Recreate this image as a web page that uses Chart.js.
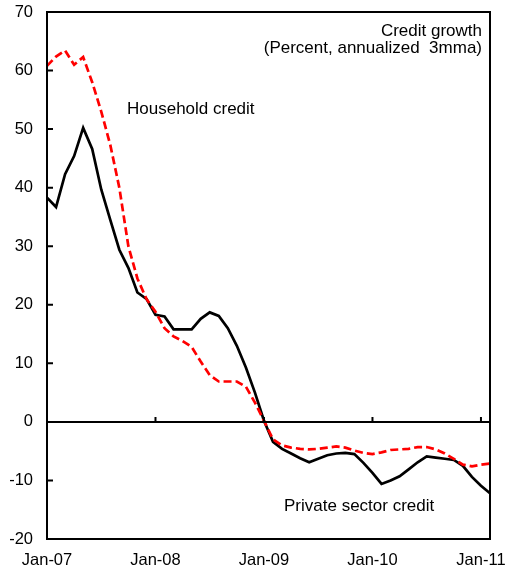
<!DOCTYPE html>
<html>
<head>
<meta charset="utf-8">
<script src="https://cdn.jsdelivr.net/npm/chart.js@4"></script>
<style>
  body { margin: 0; background: #fff; }
</style>
</head>
<body>
<canvas id="c" width="508" height="572"></canvas>
<script>
// monthly, Jan-07 .. Feb-11
const startYear = 2007
const monthCount = 50
const tickLabels = ['Jan-07', 'Jan-08', 'Jan-09', 'Jan-10', 'Jan-11']
const yTicks = [70, 60, 50, 40, 30, 20, 10, 0, -10, -20]

const privateCredit = [
  38.3, 36.7, 42.3, 45.4, 50.2, 46.6, 39.7, 34.5, 29.4, 26.3, 22.1, 21.0,
  18.3, 18.0, 15.8, 15.8, 15.8, 17.6, 18.7, 18.1, 16.0, 13.0, 9.3, 5.0,
  0.2, -3.4, -4.6, -5.4, -6.2, -6.9, -6.3, -5.7, -5.4, -5.3, -5.5, -7.0,
  -8.7, -10.6, -10.0, -9.3, -8.1, -6.9, -5.9, -6.1, -6.3, -6.5, -7.5, -9.4,
  -10.9, -12.2
]
const householdCredit = [
  60.8, 62.4, 63.4, 61.0, 62.3, 58.0, 53.0, 47.3, 40.0, 30.0, 24.5, 21.0,
  18.8, 16.0, 14.6, 13.8, 12.8, 10.3, 8.0, 6.9, 6.9, 6.9, 6.0, 3.3,
  0.2, -3.0, -4.0, -4.4, -4.6, -4.7, -4.6, -4.4, -4.2, -4.4, -4.9, -5.3,
  -5.5, -5.2, -4.8, -4.7, -4.6, -4.3, -4.3, -4.7, -5.4, -6.3, -7.3, -7.6,
  -7.3, -7.1
]

const monNames = ['Jan','Feb','Mar','Apr','May','Jun','Jul','Aug','Sep','Oct','Nov','Dec']
const months = []
for (let i = 0; i < monthCount; i++) {
  const y = startYear + Math.floor(i / 12)
  months.push(monNames[i % 12] + '-' + String(y).slice(2))
}

const FONT = 'Arial, "Liberation Sans", sans-serif'

// frame, inward ticks, zero-line ticks and the text notes
const decor = {
  id: 'decor',
  afterDraw (chart) {
    const { ctx, chartArea: a, scales } = chart
    const xs = scales.x
    const ys = scales.y
    ctx.save()
    ctx.strokeStyle = '#000'
    ctx.lineWidth = 2
    ctx.strokeRect(a.left, a.top, a.right - a.left, a.bottom - a.top)

    const zero = ys.getPixelForValue(0)
    ctx.beginPath()
    ctx.moveTo(a.left, zero)
    ctx.lineTo(a.right, zero)
    ctx.stroke()

    ctx.beginPath()
    yTicks.forEach(v => {
      const y = ys.getPixelForValue(v)
      ctx.moveTo(a.left, y)
      ctx.lineTo(a.left + 6, y)
    })
    months.forEach((m, i) => {
      if (i > 0 && tickLabels.includes(m)) {
        const x = xs.getPixelForValue(i)
        ctx.moveTo(x, zero)
        ctx.lineTo(x, zero - 5)
      }
    })
    ctx.stroke()

    ctx.fillStyle = '#000'
    ctx.font = '17px ' + FONT
    ctx.textBaseline = 'alphabetic'
    ctx.textAlign = 'left'
    ctx.fillText('Household credit', 127, 114)
    ctx.fillText('Private sector credit', 284, 511)
    ctx.textAlign = 'right'
    ctx.fillText('Credit growth', 482, 36)
    ctx.fillText('(Percent, annualized  3mma)', 482, 53)
    ctx.restore()
  }
}

new Chart(document.getElementById('c'), {
  type: 'line',
  data: {
    labels: months,
    datasets: [
      {
        label: 'Household credit',
        data: householdCredit,
        borderColor: '#ff0000',
        borderWidth: 2.7,
        borderDash: [8, 4],
        pointRadius: 0,
        tension: 0,
        fill: false
      },
      {
        label: 'Private sector credit',
        data: privateCredit,
        borderColor: '#000000',
        borderWidth: 2.7,
        pointRadius: 0,
        tension: 0,
        fill: false
      }
    ]
  },
  options: {
    responsive: false,
    animation: false,
    layout: { padding: { top: 12, right: 18, left: 0, bottom: 0 } },
    plugins: {
      legend: { display: false },
      tooltip: { enabled: false }
    },
    scales: {
      x: {
        type: 'category',
        offset: false,
        grid: { display: false, drawTicks: false },
        border: { display: false },
        ticks: {
          autoSkip: false,
          maxRotation: 0,
          padding: 12,
          color: '#000',
          font: { family: FONT, size: 16.5 },
          callback: function (val, i) {
            const l = months[i]
            return tickLabels.includes(l) ? l : ''
          }
        },
        afterFit: s => { s.height = 33; s.paddingLeft = 0; s.paddingRight = 0 }
      },
      y: {
        min: -20,
        max: 70,
        grid: { display: false, drawTicks: false },
        border: { display: false },
        ticks: {
          stepSize: 10,
          padding: 14,
          color: '#000',
          font: { family: FONT, size: 16.5 }
        },
        afterFit: s => { s.width = 47; s.paddingTop = 0; s.paddingBottom = 0 }
      }
    }
  },
  plugins: [decor]
})
</script>
</body>
</html>
